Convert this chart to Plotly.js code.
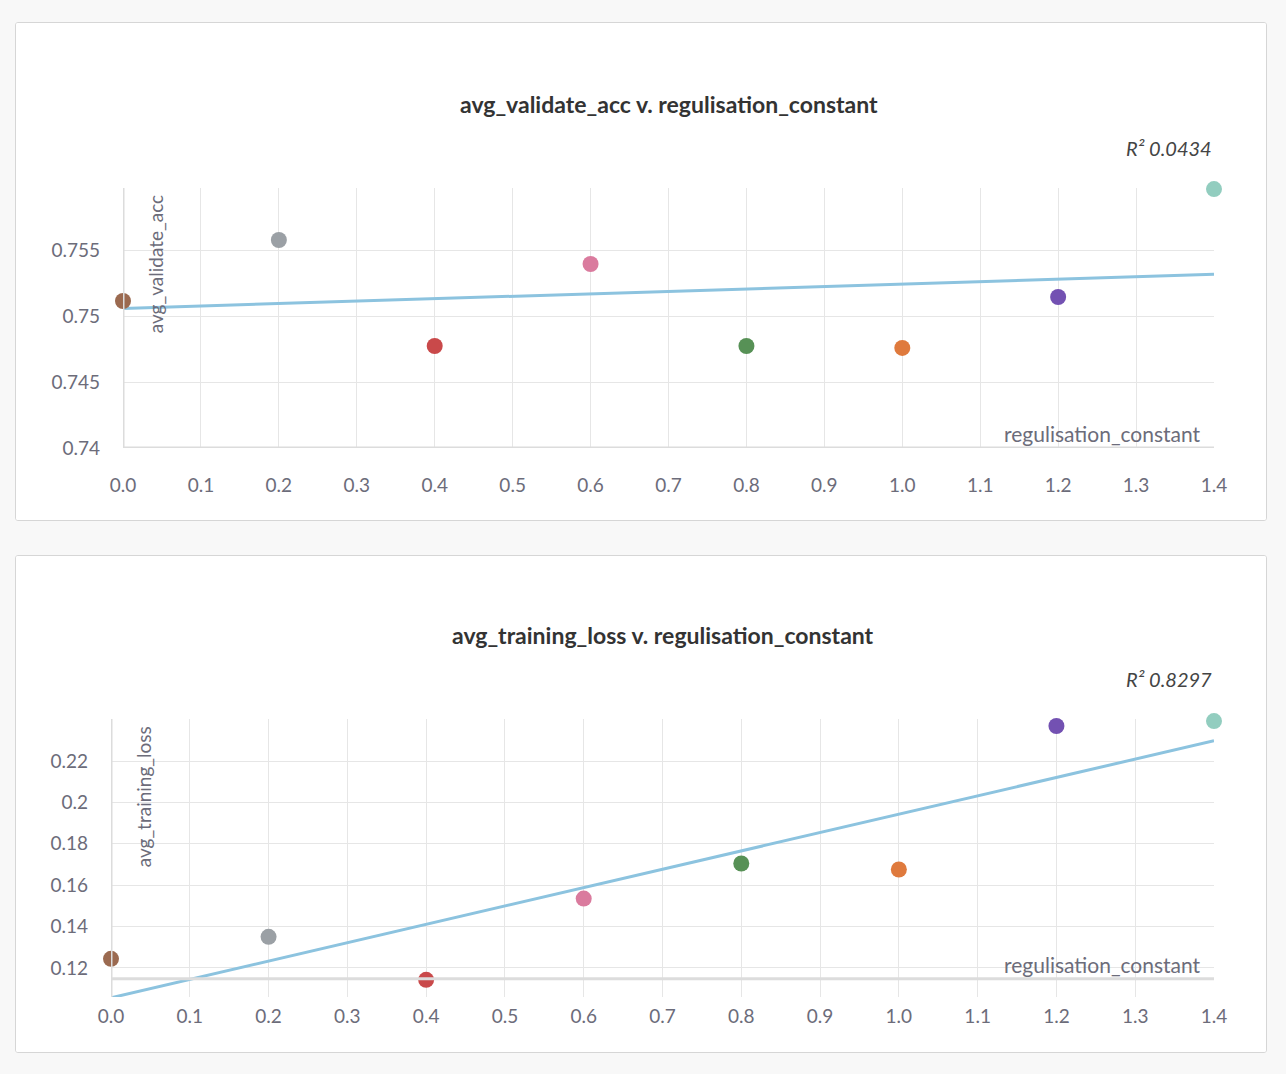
<!DOCTYPE html>
<html>
<head>
<meta charset="utf-8">
<script src="https://cdn.plot.ly/plotly-3.0.1.min.js"></script>
<style>
  body { margin: 0; background: #f8f8f8; width: 1286px; height: 1074px; position: relative; font-family: Lato, sans-serif; }
  .panel { position: absolute; left: 15px; width: 1250px; background: #fff; border: 1px solid #d6d6d6; border-radius: 3px; overflow: hidden; }
</style>
</head>
<body>
<div class="panel" id="acc" style="top:22px;height:497px"></div>
<div class="panel" id="loss" style="top:555px;height:496px"></div>
<script>
const regConst = [0.0, 0.2, 0.4, 0.6, 0.8, 1.0, 1.2, 1.4]
const validateAcc = [0.75114, 0.75576, 0.74773, 0.75394, 0.74773, 0.74758, 0.75144, 0.75962]
const trainingLoss = [0.12437, 0.1350, 0.1142, 0.1535, 0.1705, 0.1676, 0.2370, 0.2394]
const pointColors = ['#9b6a50', '#9ba0a5', '#c9494a', '#da7b9e', '#579156', '#df7a3d', '#7351b2', '#92cdbf']
const xTicks = [0, 0.1, 0.2, 0.3, 0.4, 0.5, 0.6, 0.7, 0.8, 0.9, 1.0, 1.1, 1.2, 1.3, 1.4]

function fitLine(x, y) {
    const n = x.length
    const mx = x.reduce((a, b) => a + b) / n
    const my = y.reduce((a, b) => a + b) / n
    let sxy = 0, sxx = 0
    x.forEach((v, i) => { sxy += (v - mx) * (y[i] - my); sxx += (v - mx) ** 2 })
    const slope = sxy / sxx
    return { slope, icpt: my - slope * mx }
}

function plotPanel(el, y, yName, yRange, yTicks, yTickText, margin, r2, axisY, xStandoff, yTitleX) {
    const fit = fitLine(regConst, y)
    const lineX = [0, 1.4]
    const traces = [
        { x: lineX, y: lineX.map(v => fit.icpt + fit.slope * v), mode: 'lines',
          line: { color: '#8cc3df', width: 3 }, hoverinfo: 'skip', cliponaxis: false },
        { x: regConst, y, mode: 'markers', marker: { color: pointColors, size: 16 }, cliponaxis: false }
    ]
    const tickFont = { family: 'Lato, sans-serif', size: 19, color: '#6c6c7a' }
    const layout = {
        width: 1250, height: el.offsetHeight,
        margin,
        showlegend: false,
        font: { family: 'Lato, sans-serif' },
        paper_bgcolor: '#fff', plot_bgcolor: '#fff',
        xaxis: { range: [0, 1.4], tickvals: xTicks, tickformat: '.1f', gridcolor: '#e6e6e6',
                 zeroline: false, showline: false, tickfont: tickFont, ticks: '', ticklabelstandoff: xStandoff },
        yaxis: { range: yRange, tickvals: yTicks, ticktext: yTickText, gridcolor: '#e6e6e6',
                 zeroline: false, tickfont: tickFont, ticks: '', ticklabelstandoff: 22 },
        shapes: [
            { type: 'line', xref: 'x', yref: 'paper', x0: 0, x1: 0, y0: 0, y1: 1, line: { color: '#dcdcdc', width: 3 } },
            { type: 'line', xref: 'paper', yref: 'y', x0: 0, x1: 1, y0: axisY, y1: axisY, line: { color: '#dcdcdc', width: 3 } }
        ],
        annotations: [
            { text: '<b>' + yName + ' v. regulisation_constant</b>', xref: 'paper', yref: 'paper', x: 0.5, y: 1,
              yshift: 100, showarrow: false, font: { size: 23, color: '#333' } },
            { text: '<i>R² ' + r2 + '</i>', xref: 'paper', yref: 'paper', x: 1, y: 1, xanchor: 'right', yshift: 54,
              showarrow: false, font: { size: 20, color: '#444' } },
            { text: yName, xref: 'paper', yref: 'paper', x: yTitleX, y: 0.98, yanchor: 'top', textangle: -90,
              showarrow: false, font: { size: 19, color: '#6c6c7a' } },
            { text: 'regulisation_constant', xref: 'paper', yref: 'y', x: 0.99, y: axisY, xanchor: 'right', yanchor: 'bottom',
              showarrow: false, font: { size: 21, color: '#6c6c7a' } }
        ]
    }
    Plotly.newPlot(el, traces, layout, { displayModeBar: false })
}

plotPanel(document.getElementById('acc'), validateAcc, 'avg_validate_acc', [0.74, 0.7597],
    [0.74, 0.745, 0.75, 0.755], ['0.74', '0.745', '0.75', '0.755'],
    { l: 107, r: 52, t: 165, b: 74 }, '0.0434', 0.74, 24, 0.017)
plotPanel(document.getElementById('loss'), trainingLoss, 'avg_training_loss', [0.1059, 0.2404],
    [0.12, 0.14, 0.16, 0.18, 0.2, 0.22], ['0.12', '0.14', '0.16', '0.18', '0.2', '0.22'],
    { l: 95, r: 52, t: 163, b: 57 }, '0.8297', 0.1147, 6, 0.017)
</script>
</body>
</html>
